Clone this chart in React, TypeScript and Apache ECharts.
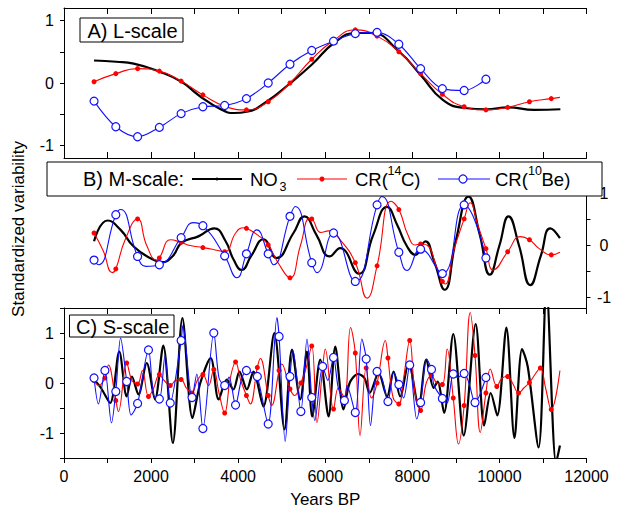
import React, { useEffect, useRef } from 'react';
import * as echarts from 'echarts';

const FONT = '"Liberation Sans", Arial, Helvetica, sans-serif';

// Axis ticks / labels
const X_TICKS = [0, 1000, 2000, 3000, 4000, 5000, 6000, 7000, 8000, 9000, 10000, 11000, 12000];
const X_LABELS = [0, 2000, 4000, 6000, 8000, 10000, 12000];
const Y_TICKS_AB = [-1, -0.5, 0, 0.5, 1];
const Y_TICKS_C = [-1.5, -1, -0.5, 0, 0.5, 1, 1.5];
const Y_LABELS = [-1, 0, 1];

// Marker years
const MARKS_500 = [690, 1190, 1690, 2190, 2690, 3190, 3690, 4190, 4690, 5190, 5690, 6190, 6690, 7190, 7690, 8190, 8690, 9190, 9690, 10190, 10690, 11190];
const MARKS_250 = [690, 940, 1190, 1440, 1690, 1940, 2190, 2440, 2690, 2940, 3190, 3440, 3690, 3940, 4190, 4440, 4690, 4940, 5190, 5440, 5690, 5940, 6190, 6440, 6690, 6940, 7190, 7440, 7690, 7940, 8190, 8440, 8690, 8940, 9190, 9440, 9690, 9940, 10190, 10440, 10690, 10940, 11190];

// Panel A (L-scale)
const A_NO3 = [[690, 0.36], [1200, 0.34], [1600, 0.31], [2200, 0.18], [2700, 0.02], [3100, -0.2], [3600, -0.42], [3900, -0.48], [4200, -0.46], [4650, -0.3], [5200, 0], [5700, 0.3], [6200, 0.64], [6700, 0.8], [7050, 0.8], [7700, 0.5], [8200, 0.12], [8700, -0.27], [9200, -0.4], [9700, -0.42], [10200, -0.39], [10800, -0.43], [11400, -0.42]];
const A_CR14 = [[690, 0.02], [1190, 0.15], [1690, 0.23], [2190, 0.19], [2690, 0.03], [3190, -0.19], [3690, -0.37], [4190, -0.43], [4690, -0.3], [5190, 0.0], [5690, 0.38], [6190, 0.68], [6690, 0.85], [7190, 0.75], [7690, 0.5], [8190, 0.15], [8690, -0.18], [9190, -0.38], [9690, -0.43], [10190, -0.39], [10690, -0.3], [11190, -0.25], [11390, -0.23]];
const A_CR10 = [[690, -0.29], [1190, -0.7], [1690, -0.86], [2190, -0.71], [2690, -0.49], [3190, -0.38], [3690, -0.36], [4190, -0.25], [4690, 0.0], [5190, 0.3], [5690, 0.52], [6190, 0.67], [6690, 0.79], [7190, 0.81], [7690, 0.62], [8190, 0.23], [8690, -0.09], [9190, -0.12], [9690, 0.06]];

// Panel B (M-scale)
const B_NO3 = [[690, 0.08], [1000, 0.48], [1300, 0.3], [1600, -0.02], [2000, -0.25], [2250, -0.32], [2500, -0.2], [2700, 0.05], [3100, 0.18], [3450, 0.33], [3700, 0.1], [3900, -0.28], [4080, -0.47], [4300, -0.2], [4580, 0.12], [4880, -0.24], [5270, 0.24], [5520, 0.56], [5800, 0.2], [6100, -0.21], [6340, -0.05], [6770, -0.54], [7100, 0.2], [7420, 0.74], [7650, 0.4], [7880, -0.02], [8070, -0.18], [8300, 0.08], [8500, -0.3], [8740, -0.85], [9000, 0.1], [9290, 0.94], [9550, 0.2], [9780, -0.56], [10000, 0], [10210, 0.56], [10450, 0], [10710, -0.76], [10950, -0.2], [11170, 0.33], [11390, 0.14]];
const B_CR14 = [[690, 0.24], [900, -0.1], [1110, -0.52], [1190, -0.45], [1400, 0.1], [1690, 0.51], [1900, 0.0], [2130, -0.28], [2190, -0.24], [2450, 0.11], [2690, 0.06], [2900, 0.0], [3190, -0.04], [3450, -0.08], [3690, -0.12], [3950, 0.25], [4130, 0.34], [4190, 0.33], [4450, 0.2], [4690, 0.01], [4930, -0.35], [5190, -0.62], [5430, 0.0], [5640, 0.52], [5690, 0.51], [5900, 0.25], [6080, 0.28], [6300, 0.15], [6690, -0.33], [6960, -1.01], [7190, -0.39], [7510, 0.85], [7690, 0.69], [7900, 0.2], [8070, 0.01], [8190, 0.03], [8350, 0.0], [8550, -0.4], [8690, -0.69], [8760, -0.74], [8950, -0.1], [9190, 0.51], [9330, 0.82], [9500, 0.4], [9690, -0.06], [9860, -0.47], [10190, -0.12], [10480, 0.17], [10690, 0.11], [10900, -0.05], [11190, -0.18], [11390, -0.13]];
const B_CR10 = [[690, -0.28], [790, -0.37], [1190, 0.59], [1300, 0.69], [1690, -0.21], [1880, -0.4], [2190, -0.37], [2690, 0.15], [2970, 0.44], [3190, 0.38], [3690, -0.2], [3970, -0.62], [4190, -0.16], [4430, 0.3], [4690, -0.16], [4810, -0.37], [5190, 0.56], [5310, 0.75], [5690, -0.33], [5810, -0.52], [6190, 0.24], [6690, -0.69], [7190, 0.78], [7300, 0.94], [7690, -0.13], [7880, -0.48], [8190, -0.07], [8690, -0.54], [9190, 0.78], [9690, -0.24]];

// Panel C (S-scale)
const C_NO3 = [[690, 0.07], [850, -0.1], [1060, -0.4], [1270, 0.63], [1440, -0.27], [1560, 0.13], [1710, -0.23], [1900, 0.4], [2090, -0.33], [2280, 0.75], [2500, -1.2], [2720, 1.3], [2950, -0.7], [3130, 0.0], [3370, 0.5], [3550, -0.33], [3740, 0.07], [3890, -0.13], [4030, 0.23], [4200, -0.13], [4350, 0.23], [4580, -0.47], [4830, 1.0], [5065, -0.93], [5235, 0.67], [5425, -0.33], [5580, 0.63], [5700, -0.67], [5885, 0.47], [6076, -0.67], [6230, 0.73], [6420, -0.53], [6560, 0.0], [6750, 0.18], [6900, 0.1], [7020, -0.2], [7225, 0.2], [7420, -0.27], [7570, 0.23], [7720, -0.27], [7915, 0.4], [8145, -0.47], [8320, 0.47], [8490, -0.1], [8580, 0.03], [8730, -0.6], [8940, 0.98], [9180, -1.05], [9455, 1.18], [9650, -0.85], [9800, -0.2], [9950, -0.65], [10160, 1.11], [10345, -1.1], [10520, 0.68], [10650, 0.33], [10900, -1.29], [11080, 1.9], [11300, -1.6], [11390, -1.25]];
const C_CR14 = [[690, 0.05], [800, -0.05], [940, 0.1], [1020, 0.36], [1190, -0.35], [1250, -0.57], [1440, 0.4], [1560, 0.05], [1690, -0.02], [1800, 0.25], [1940, -0.27], [2060, -0.1], [2190, 0.17], [2300, 0.05], [2440, -0.05], [2560, 0.05], [2690, 0.07], [2810, -0.1], [2940, -0.2], [3060, 0.05], [3190, 0.17], [3320, -0.05], [3440, 0.27], [3560, -0.2], [3690, -0.6], [3820, 0.1], [3940, 0.42], [4060, 0.05], [4190, -0.25], [4280, -0.42], [4440, 0.31], [4510, 0.49], [4690, -0.25], [4770, -0.45], [4940, 0.25], [5000, 0.38], [5190, -0.12], [5300, -0.25], [5440, 0.0], [5560, 0.3], [5690, 0.74], [5810, -0.79], [5940, 0.3], [6000, 0.68], [6190, -0.52], [6300, -0.1], [6440, -0.3], [6580, 1.11], [6690, 0.6], [6800, -1.05], [6940, 0.3], [7060, -0.3], [7190, 0.0], [7380, 0.85], [7440, 0.5], [7560, -0.3], [7690, -0.42], [7800, 0.1], [7940, 0.85], [8060, -0.2], [8190, -0.55], [8320, 0.0], [8440, 0.15], [8560, 0.0], [8690, -0.03], [8800, 0.68], [8940, -0.3], [9060, -1.22], [9190, -0.45], [9330, 1.41], [9440, 0.55], [9560, -0.99], [9690, -0.2], [9790, 0.28], [9940, -0.07], [10060, 0.1], [10190, 0.13], [10300, 0.0], [10440, -0.2], [10560, -0.1], [10690, 0.01], [10800, 0.15], [10940, 0.3], [11060, -0.1], [11190, -0.53], [11390, 0.25]];
const C_CR10 = [[690, 0.1], [790, -0.42], [940, 0.25], [1090, -0.8], [1190, -0.17], [1300, 0.9], [1440, 0.03], [1540, -0.64], [1690, -0.41], [1940, 0.66], [2060, -0.25], [2190, -0.32], [2320, 0.55], [2440, -0.4], [2690, 0.85], [2730, 1.15], [2940, -0.29], [3050, 0.18], [3190, -0.91], [3440, 1.0], [3560, 0.1], [3690, -0.05], [3790, 0.12], [3940, -0.44], [4070, 0.05], [4190, 0.25], [4330, 0.2], [4440, 0.13], [4690, -0.82], [4890, 1.31], [4940, 0.93], [5080, -1.17], [5190, 0.13], [5260, 0.65], [5440, -0.57], [5580, 0.88], [5690, -0.29], [5760, -0.75], [5940, 0.33], [6060, 0.05], [6190, 0.51], [6300, -0.1], [6440, -0.35], [6500, -0.05], [6690, -0.59], [6840, 0.88], [6940, 0.48], [7040, -0.85], [7190, 0.23], [7300, 0.1], [7440, -0.37], [7570, 0.21], [7690, -0.03], [7800, -0.3], [7940, 0.36], [8100, -0.72], [8190, -0.39], [8330, 0.48], [8440, 0.27], [8500, -0.05], [8690, -0.31], [8800, -0.4], [8940, 0.18], [9040, 0.11], [9190, 0.19], [9300, 0.0], [9440, -0.39], [9690, 0.11]];

const BLACK = '#000000';
const RED = '#ff0000';
const BLUE = '#1010ff';

function makeSeries(name: string, data: number[][], axis: number, kind: 'no3' | 'c14' | 'be10', marks: number[], smooth: number | boolean) {
  const base: any = {
    name,
    type: 'line',
    xAxisIndex: axis,
    yAxisIndex: axis,
    smooth,
    clip: true,
    showSymbol: kind !== 'no3',
    showAllSymbol: true,
    silent: true,
  };
  if (kind === 'no3') {
    return {
      ...base,
      symbol: 'none',
      data: data.map((d) => [d[0], d[1]]),
      lineStyle: { color: BLACK, width: 2.2 },
      itemStyle: { color: BLACK },
      z: 3,
    };
  }
  if (kind === 'c14') {
    return {
      ...base,
      data: data.map((d) => ({ value: [d[0], d[1]], symbol: marks.includes(d[0]) ? 'circle' : 'none' })),
      symbolSize: 5,
      lineStyle: { color: RED, width: 1.1 },
      itemStyle: { color: RED, borderWidth: 0 },
      z: 4,
    };
  }
  return {
    ...base,
    data: data.map((d) => ({ value: [d[0], d[1]], symbol: marks.includes(d[0]) ? 'circle' : 'none' })),
    symbolSize: 8,
    lineStyle: { color: BLUE, width: 1.1 },
    itemStyle: { color: '#ffffff', borderColor: BLUE, borderWidth: 1.2 },
    z: 5,
  };
}

const axisLineStyle = { color: '#000', width: 1 };
const plain = (v: number) => String(v);

function xAxisCfg(gridIndex: number, position: 'top' | 'bottom', opts: any) {
  return {
    type: 'value',
    gridIndex,
    position,
    min: 0,
    max: 12000,
    axisLine: { show: true, onZero: false, lineStyle: axisLineStyle },
    axisTick: { show: true, inside: true, length: 6, customValues: X_TICKS, lineStyle: axisLineStyle },
    axisLabel: { show: false },
    splitLine: { show: false },
    ...opts,
  };
}

function yAxisCfg(gridIndex: number, position: 'left' | 'right', min: number, max: number, ticks: number[], opts: any) {
  return {
    type: 'value',
    gridIndex,
    position,
    min,
    max,
    axisLine: { show: true, onZero: false, lineStyle: axisLineStyle },
    axisTick: { show: true, inside: false, length: 4, customValues: ticks, lineStyle: axisLineStyle },
    axisLabel: { show: true, customValues: Y_LABELS, formatter: plain, color: '#000', fontSize: 16, fontFamily: FONT, margin: 10 },
    splitLine: { show: false },
    ...opts,
  };
}

export default function App() {
  const ref = useRef<HTMLDivElement>(null);

  useEffect(() => {
    if (!ref.current) return;
    const chart = echarts.init(ref.current, null, { renderer: 'svg' });

    const legendY = 179;
    const option: any = {
      animation: false,
      backgroundColor: '#ffffff',
      grid: [
        { left: 64, right: 32.5, top: 8, height: 150 },
        { left: 64, right: 32.5, top: 183, height: 125 },
        { left: 64, right: 32.5, top: 308, height: 150 },
      ],
      xAxis: [
        xAxisCfg(0, 'bottom', {}),
        xAxisCfg(1, 'bottom', { show: false }),
        xAxisCfg(2, 'bottom', {
          axisTick: { show: true, inside: false, length: 5, customValues: X_TICKS, lineStyle: axisLineStyle },
          axisLabel: { show: true, customValues: X_LABELS, formatter: plain, color: '#000', fontSize: 16, fontFamily: FONT, margin: 10 },
          name: 'Years BP',
          nameLocation: 'middle',
          nameGap: 33,
          nameTextStyle: { color: '#000', fontSize: 17, fontFamily: FONT },
        }),
        xAxisCfg(0, 'top', {}),
        xAxisCfg(2, 'top', {}),
      ],
      yAxis: [
        yAxisCfg(0, 'left', -1.2, 1.2, Y_TICKS_AB, {}),
        yAxisCfg(1, 'right', -1.2, 1.2, Y_TICKS_AB, {
          axisLabel: { show: true, customValues: Y_LABELS, formatter: plain, color: '#000', fontSize: 16, fontFamily: FONT, margin: 17.5, align: 'center' },
        }),
        yAxisCfg(2, 'left', -1.5, 1.5, Y_TICKS_C, {}),
      ],
      series: [
        makeSeries('NO3 (L)', A_NO3, 0, 'no3', MARKS_500, 0.5),
        makeSeries('CR(14C) (L)', A_CR14, 0, 'c14', MARKS_500, 0.5),
        makeSeries('CR(10Be) (L)', A_CR10, 0, 'be10', MARKS_500, 0.35),
        makeSeries('NO3 (M)', B_NO3, 1, 'no3', MARKS_500, 0.5),
        makeSeries('CR(14C) (M)', B_CR14, 1, 'c14', MARKS_500, 0.5),
        makeSeries('CR(10Be) (M)', B_CR10, 1, 'be10', MARKS_500, 0.5),
        makeSeries('NO3 (S)', C_NO3, 2, 'no3', MARKS_250, 0.3),
        makeSeries('CR(14C) (S)', C_CR14, 2, 'c14', MARKS_250, 0.4),
        makeSeries('CR(10Be) (S)', C_CR10, 2, 'be10', MARKS_250, 0.3),
      ],
      graphic: [
        // Panel A label
        { type: 'rect', z: 100, shape: { x: 80, y: 18, width: 103, height: 24 }, style: { fill: '#fff', stroke: '#000', lineWidth: 1 } },
        { type: 'text', z: 101, x: 87.5, y: 30.5, style: { text: 'A) L-scale', fontSize: 20, fontFamily: FONT, fill: '#000', verticalAlign: 'middle', align: 'left' } },
        // Panel C label
        { type: 'rect', z: 100, shape: { x: 69.5, y: 315, width: 104.5, height: 22 }, style: { fill: '#fff', stroke: '#000', lineWidth: 1 } },
        { type: 'text', z: 101, x: 76, y: 326.5, style: { text: 'C) S-scale', fontSize: 20, fontFamily: FONT, fill: '#000', verticalAlign: 'middle', align: 'left' } },
        // Legend box with panel B label
        { type: 'rect', z: 100, shape: { x: 47, y: 162, width: 555, height: 34 }, style: { fill: '#fff', stroke: '#000', lineWidth: 1 } },
        { type: 'text', z: 101, x: 83, y: legendY, style: { text: 'B) M-scale:', fontSize: 20, fontFamily: FONT, fill: '#000', verticalAlign: 'middle', align: 'left' } },
        { type: 'line', z: 101, shape: { x1: 192, y1: legendY, x2: 242, y2: legendY }, style: { stroke: BLACK, lineWidth: 2 } },
        { type: 'circle', z: 102, shape: { cx: 217, cy: legendY, r: 1.5 }, style: { fill: BLACK } },
        { type: 'text', z: 101, x: 250, y: legendY, style: { text: 'NO', fontSize: 18.5, fontFamily: FONT, fill: '#000', verticalAlign: 'middle', align: 'left' } },
        { type: 'text', z: 101, x: 279.5, y: 187, style: { text: '3', fontSize: 12.5, fontFamily: FONT, fill: '#000', verticalAlign: 'middle', align: 'left' } },
        { type: 'line', z: 101, shape: { x1: 297, y1: legendY, x2: 347, y2: legendY }, style: { stroke: RED, lineWidth: 1.1 } },
        { type: 'circle', z: 102, shape: { cx: 322, cy: legendY, r: 2.5 }, style: { fill: RED } },
        { type: 'text', z: 101, x: 355, y: legendY, style: { text: 'CR(', fontSize: 18.5, fontFamily: FONT, fill: '#000', verticalAlign: 'middle', align: 'left' } },
        { type: 'text', z: 101, x: 387.5, y: 170.5, style: { text: '14', fontSize: 12.5, fontFamily: FONT, fill: '#000', verticalAlign: 'middle', align: 'left' } },
        { type: 'text', z: 101, x: 401, y: legendY, style: { text: 'C)', fontSize: 18.5, fontFamily: FONT, fill: '#000', verticalAlign: 'middle', align: 'left' } },
        { type: 'line', z: 101, shape: { x1: 438, y1: legendY, x2: 490, y2: legendY }, style: { stroke: BLUE, lineWidth: 1.1 } },
        { type: 'circle', z: 102, shape: { cx: 463, cy: legendY, r: 4 }, style: { fill: '#fff', stroke: BLUE, lineWidth: 1.2 } },
        { type: 'text', z: 101, x: 495, y: legendY, style: { text: 'CR(', fontSize: 18.5, fontFamily: FONT, fill: '#000', verticalAlign: 'middle', align: 'left' } },
        { type: 'text', z: 101, x: 528, y: 170.5, style: { text: '10', fontSize: 12.5, fontFamily: FONT, fill: '#000', verticalAlign: 'middle', align: 'left' } },
        { type: 'text', z: 101, x: 541.5, y: legendY, style: { text: 'Be)', fontSize: 18.5, fontFamily: FONT, fill: '#000', verticalAlign: 'middle', align: 'left' } },
        // Y axis title
        { type: 'text', z: 101, x: 18, y: 229, rotation: Math.PI / 2, style: { text: 'Standardized variability', fontSize: 17, fontFamily: FONT, fill: '#000', verticalAlign: 'middle', align: 'center' } },
      ],
    };

    chart.setOption(option);
    return () => chart.dispose();
  }, []);

  return (
    <div
      ref={ref}
      style={{ position: 'absolute', left: 0, top: 0, width: 619, height: 511, background: '#fff' }}
    />
  );
}
